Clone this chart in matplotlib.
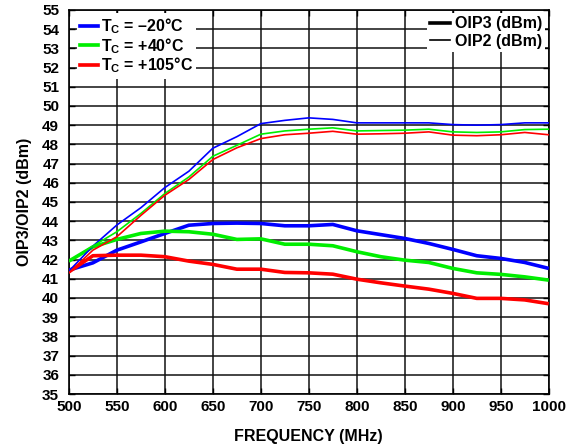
import matplotlib
matplotlib.use("Agg")
import matplotlib.pyplot as plt
from matplotlib.lines import Line2D

plt.rcParams['font.family'] = ['Liberation Sans', 'DejaVu Sans']
plt.rcParams['font.weight'] = 'bold'
plt.rcParams['mathtext.fontset'] = 'custom'
plt.rcParams['mathtext.rm'] = 'Liberation Sans:bold'
plt.rcParams['mathtext.bf'] = 'Liberation Sans:bold'
plt.rcParams['mathtext.it'] = 'Liberation Sans:bold'

freq = [500, 525, 550, 575, 600, 625, 650, 675, 700, 725, 750, 775, 800,
        825, 850, 875, 900, 925, 950, 975, 1000]

oip2_m20 = [41.4, 42.7, 43.8, 44.7, 45.75, 46.6, 47.8, 48.4, 49.08, 49.25, 49.38, 49.3, 49.12,
            49.12, 49.12, 49.12, 49.03, 49.0, 49.03, 49.12, 49.12]
oip2_p40 = [41.9, 42.7, 43.45, 44.4, 45.44, 46.3, 47.38, 47.95, 48.53, 48.7, 48.79, 48.86, 48.7,
            48.72, 48.74, 48.79, 48.65, 48.62, 48.65, 48.77, 48.79]
oip2_p105 = [41.3, 42.49, 43.19, 44.3, 45.35, 46.17, 47.21, 47.82, 48.3, 48.5, 48.58, 48.68, 48.53,
             48.55, 48.58, 48.65, 48.48, 48.45, 48.5, 48.62, 48.5]

oip3_m20 = [41.45, 41.83, 42.49, 42.92, 43.36, 43.79, 43.88, 43.9, 43.88, 43.76, 43.76, 43.83, 43.5,
            43.3, 43.1, 42.84, 42.53, 42.2, 42.06, 41.85, 41.54]
oip3_p40 = [41.92, 42.66, 43.05, 43.36, 43.48, 43.45, 43.32, 43.05, 43.08, 42.8, 42.8, 42.72, 42.41,
            42.15, 41.97, 41.85, 41.54, 41.31, 41.23, 41.1, 40.93]
oip3_p105 = [41.36, 42.2, 42.23, 42.23, 42.15, 41.92, 41.75, 41.5, 41.5, 41.33, 41.31, 41.24, 40.98,
             40.79, 40.62, 40.46, 40.24, 39.98, 39.98, 39.9, 39.7]

temp_labels = [r'T$_{\mathrm{C}}$ = –20°C', r'T$_{\mathrm{C}}$ = +40°C', r'T$_{\mathrm{C}}$ = +105°C']
colors = ['#0000ff', '#00ee00', '#ff0000']
metric_labels = ['OIP3 (dBm)', 'OIP2 (dBm)']

fig = plt.figure(figsize=(5.74, 4.44), dpi=100)
ax = fig.add_axes([0.120, 0.1126, 0.836, 0.865])

thick = 2.6
thin = 1.2
for ys, c in zip([oip3_m20, oip3_p40, oip3_p105], colors):
    ax.plot(freq, ys, color=c, lw=thick, zorder=3, solid_capstyle='butt')
for ys, c in zip([oip2_m20, oip2_p40, oip2_p105], colors):
    ax.plot(freq, ys, color=c, lw=thin, zorder=3)

ax.set_xlim(500, 1000)
ax.set_ylim(35, 55)
ax.set_xticks(range(500, 1001, 50))
ax.set_yticks(range(35, 56, 1))
ax.grid(True, color='#111111', lw=1.1)
ax.set_axisbelow(True)
ax.tick_params(direction='in', length=4, width=1, top=True, right=True,
               labelsize=11)
ax.tick_params(axis='y', pad=7)
ax.tick_params(axis='x', pad=4)
for s in ax.spines.values():
    s.set_linewidth(1.2)

ax.set_xlabel('FREQUENCY (MHz)', fontsize=11.5, fontweight='bold', labelpad=11)
ax.set_ylabel('OIP3/OIP2 (dBm)', fontsize=11.5, fontweight='bold', labelpad=7)

h1 = [Line2D([], [], color=c, lw=thin * 2.2) for c in colors]
leg1 = ax.legend(h1, temp_labels, loc='upper left', bbox_to_anchor=(0.012, 0.998),
                 fontsize=11.5, frameon=True, fancybox=False, edgecolor='none',
                 framealpha=1, handlelength=1.1, handletextpad=0.2,
                 labelspacing=0.0, borderpad=0.2, borderaxespad=0.15)
leg1.set_zorder(1)
ax.add_artist(leg1)

h2 = [Line2D([], [], color='black', lw=thick), Line2D([], [], color='black', lw=thin)]
leg2 = ax.legend(h2, metric_labels, loc='upper right', bbox_to_anchor=(0.998, 0.998),
                 fontsize=11.5, frameon=True, fancybox=False, edgecolor='none',
                 framealpha=1, handlelength=1.25, handletextpad=0.3,
                 labelspacing=0.15, borderpad=0.2, borderaxespad=0.15)
leg2.set_zorder(1)

fig.savefig('out.png', dpi=100)
